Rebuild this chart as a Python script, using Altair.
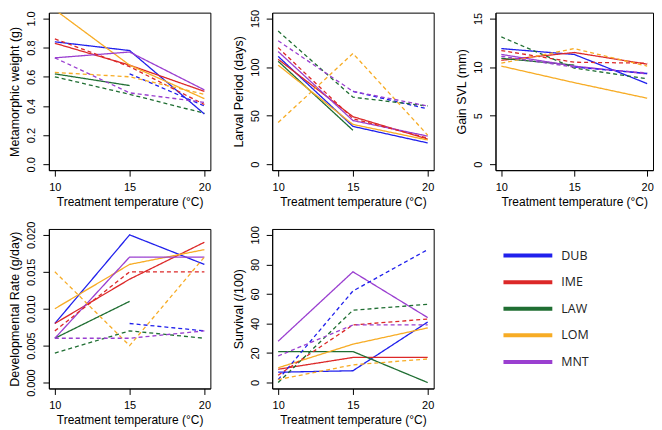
import altair as alt
import pandas as pd

temps = [10, 15, 20]
pops = ["DUB", "IME", "LAW", "LOM", "MNT"]
colors = ["#2020ec", "#dc2828", "#1f6e32", "#f7ac25", "#9a3fd0"]

# Metamorphic weight (g)
weight_solid = {"DUB": [0.84, 0.78, 0.345], "IME": [0.83, 0.68, 0.50], "LAW": [0.62, 0.54, None],
                "LOM": [1.06, 0.68, 0.45], "MNT": [0.73, 0.77, 0.51]}
weight_dashed = {"DUB": [None, 0.62, 0.40], "IME": [0.86, 0.67, 0.41], "LAW": [0.60, 0.48, 0.35],
                 "LOM": [0.63, 0.60, 0.48], "MNT": [0.73, 0.49, 0.425]}

# Larval period (days)
larval_solid = {"DUB": [111, 39, 22], "IME": [108, 49, 26], "LAW": [106, 35, None],
                "LOM": [102, 41, 25], "MNT": [116, 45, 29]}
larval_dashed = {"DUB": [None, 75, 57], "IME": [120, 47, 27], "LAW": [137, 69, 60],
                 "LOM": [43, 114, 30], "MNT": [127, 75, 60]}

# Gain SVL (mm)
svl_solid = {"DUB": [11.9, 11.3, 8.3], "IME": [10.7, 11.5, 10.3], "LAW": [10.9, 10.2, None],
             "LOM": [10.1, 8.4, 6.8], "MNT": [11.3, 10.1, 9.3]}
svl_dashed = {"DUB": [None, 10.0, 9.35], "IME": [11.7, 10.5, 10.4], "LAW": [13.1, 9.9, 8.8],
              "LOM": [10.4, 11.9, 10.1], "MNT": [11.1, 10.0, 9.4]}

# Developmental rate (g/day)
dev_solid = {"DUB": [0.008, 0.020, 0.016], "IME": [0.008, 0.014, 0.019], "LAW": [0.006, 0.011, None],
             "LOM": [0.010, 0.016, 0.018], "MNT": [0.006, 0.017, 0.017]}
dev_dashed = {"DUB": [None, 0.008, 0.007], "IME": [0.007, 0.015, 0.015], "LAW": [0.004, 0.007, 0.006],
              "LOM": [0.015, 0.005, 0.017], "MNT": [0.006, 0.006, 0.007]}

# Survival (/100)
surv_solid = {"DUB": [7, 8, 41], "IME": [9, 17, 17], "LAW": [21, 21, 0],
              "LOM": [10, 26, 37], "MNT": [28, 75, 44]}
surv_dashed = {"DUB": [2, 62, 90], "IME": [5, 39, 43], "LAW": [0, 49, 53],
               "LOM": [2, 12, 16], "MNT": [18, 39, 39]}


def make_df(solid, dashed):
    rows = []
    for kind, d in (("solid", solid), ("dashed", dashed)):
        for p in pops:
            for t, v in zip(temps, d[p]):
                if v is not None:
                    rows.append({"pop": p, "kind": kind, "temp": t, "value": v})
    return pd.DataFrame(rows)


color_scale = alt.Scale(domain=pops, range=colors)
dash_scale = alt.Scale(domain=["solid", "dashed"], range=[[1, 0], [4, 3]])


def panel(df, title, domain, ticks, fmt, w, h):
    return alt.Chart(df).mark_line(strokeWidth=1.3, clip=True).encode(
        x=alt.X("temp:Q", scale=alt.Scale(domain=[9.6, 20.4], nice=False, zero=False),
                axis=alt.Axis(values=temps, title="Treatment temperature (°C)", format="d")),
        y=alt.Y("value:Q", scale=alt.Scale(domain=domain, nice=False, zero=False),
                axis=alt.Axis(values=ticks, title=title, format=fmt)),
        color=alt.Color("pop:N", scale=color_scale, legend=None),
        strokeDash=alt.StrokeDash("kind:N", scale=dash_scale, legend=None),
    ).properties(width=w, height=h)


H1 = 158
H2 = 160
p1 = panel(make_df(weight_solid, weight_dashed), "Metamorphic weight (g)",
           [-0.04, 1.04], [0, 0.2, 0.4, 0.6, 0.8, 1.0], ".1f", 162, H1)
p2 = panel(make_df(larval_solid, larval_dashed), "Larval Period (days)",
           [-6, 156], [0, 50, 100, 150], "d", 162, H1)
p3 = panel(make_df(svl_solid, svl_dashed), "Gain SVL (mm)",
           [-0.6, 15.6], [0, 5, 10, 15], "d", 158, H1)
p4 = panel(make_df(dev_solid, dev_dashed), "Developmental Rate (g/day)",
           [-0.0008, 0.0208], [0, 0.005, 0.010, 0.015, 0.020], ".3f", 162, H2)
p5 = panel(make_df(surv_solid, surv_dashed), "Survival (/100)",
           [-4, 104], [0, 20, 40, 60, 80, 100], "d", 162, H2)

leg_df = pd.DataFrame({"pop": pops})
leg_y = alt.Y("pop:N", scale=alt.Scale(type="point", domain=pops, padding=2), axis=None)
leg_rules = alt.Chart(leg_df).mark_rule(strokeWidth=4).encode(
    x=alt.value(8), x2=alt.value(57), y=leg_y,
    color=alt.Color("pop:N", scale=color_scale, legend=None))
leg_text = alt.Chart(leg_df).mark_text(align="left", baseline="middle", font="Open Sans",
                                       fontSize=12.5, color="#222222").encode(
    x=alt.value(66), y=leg_y, text="pop:N")
legend = alt.layer(leg_rules, leg_text).properties(
    width=158, height=H2, view=alt.ViewBackground(stroke="transparent"))

chart = alt.concat(
    p1, p2, p3, p4, p5, legend, columns=3,
    spacing=alt.RowColnumber(row=59, column=62), bounds="flush"
).resolve_scale(
    x="independent", y="independent"
).properties(padding=0).configure_view(stroke="black", strokeWidth=1).configure_axis(
    domainColor="black", tickColor="black", labelColor="black", titleColor="black",
    labelFont="Liberation Sans", titleFont="Liberation Sans", labelFontSize=11,
    titleFontSize=12.5, titleFontWeight="normal", grid=False, tickSize=6,
    domainWidth=1, tickWidth=1
).configure_axisX(labelPadding=5, titlePadding=4, titleFontSize=12).configure_axisY(
    labelPadding=6, titlePadding=4, labelAngle=270
)

chart.save("out.html", embed_options={"renderer": "svg", "actions": False})
